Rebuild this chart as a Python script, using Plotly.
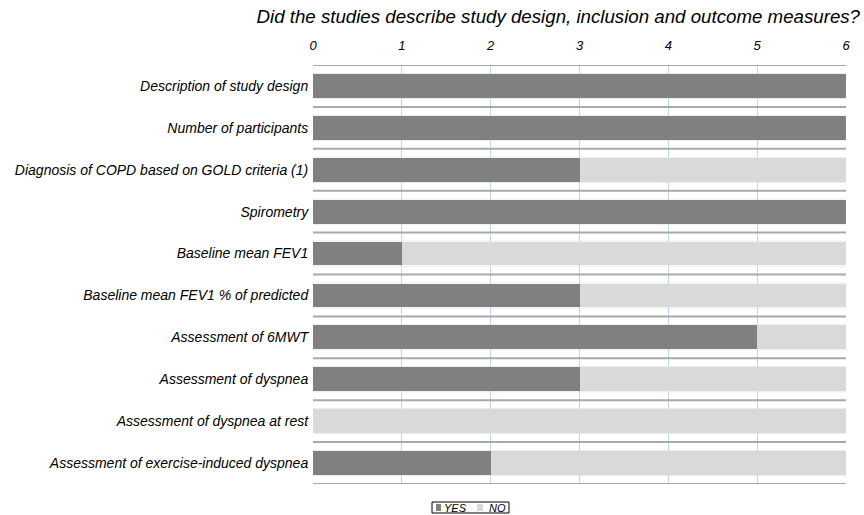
import plotly.graph_objects as go

categories = [
    "Description of study design",
    "Number of participants",
    "Diagnosis of COPD based on GOLD criteria (1)",
    "Spirometry",
    "Baseline mean FEV1",
    "Baseline mean FEV1 % of predicted",
    "Assessment of 6MWT",
    "Assessment of dyspnea",
    "Assessment of dyspnea at rest",
    "Assessment of exercise-induced dyspnea",
]
yes_values = [6, 6, 3, 6, 1, 3, 5, 3, 0, 2]
no_values = [0, 0, 3, 0, 5, 3, 1, 3, 6, 4]
x_ticks = [0, 1, 2, 3, 4, 5, 6]
series_names = ["YES", "NO"]
series_colors = ["#808080", "#d9d9d9"]
title_text = "Did the studies describe study design, inclusion and outcome measures?"

FONT = "Liberation Sans, Arial, Helvetica, sans-serif"

fig = go.Figure()
for name, vals, col in zip(series_names, [yes_values, no_values], series_colors):
    fig.add_trace(go.Bar(y=categories, x=vals, name=name, orientation="h",
                         marker=dict(color=col, line=dict(width=0)), showlegend=False))

shapes = []
n = len(categories)
for k in range(n):
    for yb in (k - 0.3, k + 0.3):
        shapes.append(dict(type="line", xref="x", yref="y", x0=0, x1=6, y0=yb, y1=yb,
                           line=dict(color="#ececec", width=1), layer="below"))
for k in range(n + 1):
    yb = k - 0.5
    shapes.append(dict(type="line", xref="x", yref="y", x0=0, x1=6, y0=yb, y1=yb,
                       line=dict(color="#a9a9a9", width=2), layer="above"))

# compact manual legend below the plot
shapes.append(dict(type="rect", xref="paper", yref="paper", x0=0.2233, x1=0.3677,
                   y0=-0.0692, y1=-0.043, line=dict(color="#000", width=1),
                   fillcolor="white"))
sq = [(0.2308, 0.2402), (0.3077, 0.3189)]
tx = [0.2420, 0.3265]
annotations = []
for (a, b), t, name, col in zip(sq, tx, series_names, series_colors):
    shapes.append(dict(type="rect", xref="paper", yref="paper", x0=a, x1=b,
                       y0=-0.0644, y1=-0.0477, line=dict(width=0), fillcolor=col))
    annotations.append(dict(text="<i>%s</i>" % name, xref="paper", yref="paper", x=t,
                            y=-0.0561, xanchor="left", yanchor="middle", showarrow=False,
                            font=dict(family=FONT, size=11, color="#000")))

fig.update_layout(
    width=864, height=515,
    barmode="stack", bargap=0.43,
    paper_bgcolor="white", plot_bgcolor="white",
    margin=dict(l=313, r=18, t=65, b=31),
    font=dict(family=FONT, size=12, color="#000000"),
    title=dict(text="<i>" + title_text + "</i>", x=0.9954, xref="container", xanchor="right",
               y=0.968, yref="container", yanchor="middle",
               font=dict(family=FONT, size=18.7, color="#000")),
    xaxis=dict(side="top", range=[0, 6], tickvals=x_ticks,
               ticktext=["<i>%d</i>" % v for v in x_ticks],
               showgrid=True, gridcolor="#bcd6f0", gridwidth=1,
               zeroline=False, ticks="outside", ticklen=9, tickcolor="rgba(0,0,0,0)",
               automargin=False,
               tickfont=dict(family=FONT, size=13, color="#000")),
    yaxis=dict(autorange=False, range=[n - 0.5, -0.5], showgrid=False, zeroline=False,
               tickvals=categories, ticktext=["<i>%s</i>" % c for c in categories],
               ticks="outside", ticklen=1, tickcolor="rgba(0,0,0,0)", automargin=False,
               tickfont=dict(family=FONT, size=14, color="#000")),
    shapes=shapes,
    annotations=annotations,
    showlegend=False,
)

fig.write_html("out.html", config={"displayModeBar": False},
               post_script="document.body.style.margin='0';")
